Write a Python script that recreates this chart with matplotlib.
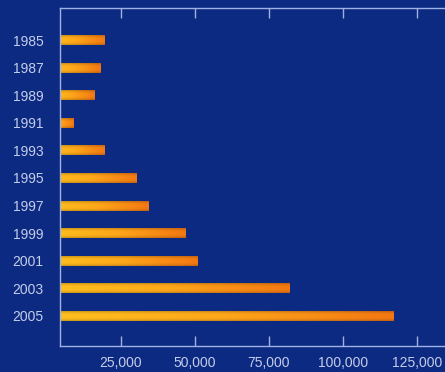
import matplotlib
matplotlib.use("Agg")
import matplotlib.pyplot as plt
import numpy as np
from matplotlib.colors import LinearSegmentedColormap

years = ["1985", "1987", "1989", "1991", "1993", "1995", "1997", "1999", "2001", "2003", "2005"]
values = [19600, 18200, 16000, 9000, 19400, 30200, 34400, 46900, 50700, 82000, 117000]
xticks = [25000, 50000, 75000, 100000, 125000]
xticklabels = ["25,000", "50,000", "75,000", "100,000", "125,000"]

plt.rcParams['font.family'] = ['Liberation Sans', 'DejaVu Sans']

bg = "#0d2a82"
spine_c = "#9fb2e4"
text_c = "#c4cde9"

fig = plt.figure(figsize=(4.45, 3.72), dpi=100, facecolor=bg)
ax = fig.add_axes([60/445, 26/372, 1 - 60/445, (346 - 8)/372])
ax.set_facecolor(bg)

n = len(years)
ypos = np.arange(n)
bar_h = 0.36

cmap = LinearSegmentedColormap.from_list("g", ["#ffc21e", "#ffa81a", "#f47812"])
hx = np.linspace(0, 1, 200)
vy = np.linspace(-1, 1, 40)
grad = np.tile(hx, (len(vy), 1))
rgb = cmap(grad)[..., :3]
shade = 1 - 0.22 * (np.abs(vy) ** 3)
rgb = rgb * shade[:, None, None]

for y, v in zip(ypos, values):
    ax.imshow(rgb, extent=[0, v, y + bar_h/2, y - bar_h/2], aspect="auto",
              interpolation="bilinear", zorder=2)

ax.set_xlim(4400, 134500)
ax.set_ylim(n - 1 + 1.09, -1.16)
ax.set_yticks(ypos)
ax.set_yticklabels(years)
ax.set_xticks(xticks)
ax.set_xticklabels(xticklabels)

for s in ["left", "top", "bottom"]:
    ax.spines[s].set_color(spine_c)
    ax.spines[s].set_linewidth(1.0)
ax.spines["right"].set_visible(False)

ax.tick_params(axis="x", direction="in", length=7, width=1, color=spine_c,
               labelcolor=text_c, labelsize=10, pad=7, top=True)
ax.tick_params(axis="y", length=0, labelcolor=text_c, labelsize=10, pad=12)

fig.savefig("out.png", dpi=100, facecolor=bg)
